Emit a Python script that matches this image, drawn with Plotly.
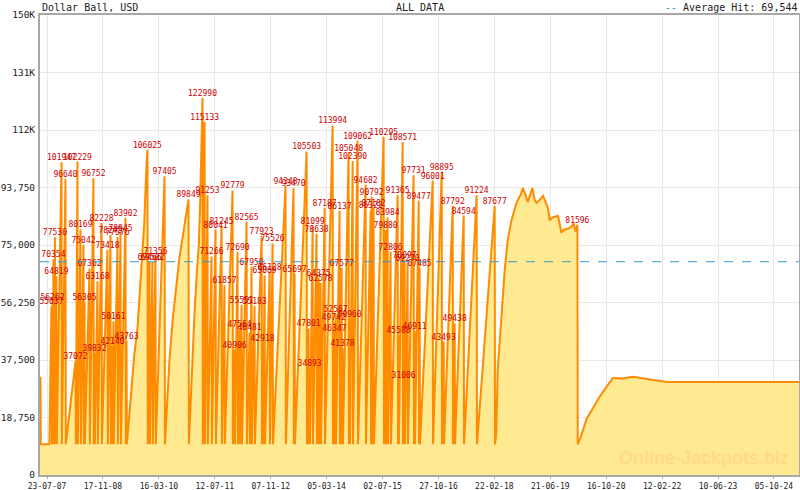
import pandas as pd
import plotly.graph_objects as go

# jackpot hits: date of the hit and the amount won (the red labels)
hit_dates = [
    "2007-08-30", "2007-09-08", "2007-09-16", "2007-09-29", "2007-10-12",
    "2007-11-25", "2007-12-29", "2008-03-25", "2008-04-11", "2008-05-07",
    "2008-06-02", "2008-06-11", "2008-07-24", "2008-08-27", "2008-09-05",
    "2008-10-01", "2008-11-05", "2008-12-26", "2009-01-21", "2009-02-08",
    "2009-02-16", "2009-03-23", "2009-04-18", "2009-05-31", "2009-06-09",
    "2009-12-07", "2009-12-25", "2010-01-19", "2010-02-14", "2010-05-04",
    "2010-11-27", "2011-03-28", "2011-04-15", "2011-05-10", "2011-06-14",
    "2011-07-19", "2011-09-09", "2011-10-04", "2011-12-13", "2011-12-30",
    "2012-01-25", "2012-02-11", "2012-02-29", "2012-04-12", "2012-05-08",
    "2012-05-25", "2012-06-20", "2012-08-20", "2012-08-28", "2012-09-15",
    "2012-10-28", "2012-11-23", "2013-03-15", "2013-05-23", "2013-06-01",
    "2013-09-13", "2013-09-30", "2013-10-09", "2013-11-04", "2013-12-08",
    "2013-12-26", "2014-01-12", "2014-02-16", "2014-04-26", "2014-05-05",
    "2014-05-13", "2014-05-22", "2014-06-25", "2014-07-13", "2014-07-21",
    "2014-09-11", "2014-09-20", "2014-10-16", "2014-11-28", "2015-02-05",
    "2015-03-21", "2015-03-29", "2015-04-15", "2015-07-11", "2015-07-28",
    "2015-08-14", "2015-09-09", "2015-11-09", "2015-11-17", "2015-12-22",
    "2015-12-31", "2016-01-08", "2016-02-03", "2016-03-26", "2016-04-04",
    "2016-05-09", "2016-05-17", "2016-09-07", "2016-11-24", "2016-12-11",
    "2017-02-27", "2017-03-16", "2017-06-02", "2017-09-22", "2018-02-25",
    "2020-02-10",
]
hit_values = [
    55037, 56262, 70354, 77530, 64819,
    101947, 96640, 37072, 102229, 80169,
    75042, 56305, 67362, 96752, 39832,
    63168, 82228, 73418, 78245, 42140,
    50161, 77576, 79045, 83902, 43763,
    106025, 69466, 69502, 71356, 97405,
    89849, 122990, 115133, 91253, 71266,
    80041, 81245, 61857, 92779, 40906,
    72690, 47564, 55551, 82565, 46481,
    67950, 55183, 77923, 42918, 65069,
    66128, 75526, 94348, 93470, 65697,
    105503, 47801, 34893, 81099, 78638,
    64375, 62578, 87187, 113994, 49742,
    46347, 52567, 86137, 67577, 41378,
    105048, 50960, 102390, 109062, 94682,
    86322, 90792, 87182, 110295, 79880,
    83984, 72806, 91365, 45588, 108571,
    31006, 70097, 69270, 97731, 46911,
    89477, 67485, 96001, 98895, 43493,
    87792, 49438, 84594, 91224, 87677,
    81596,
]

# jackpot restarts at this amount after a hit
start_value = 10000

# other readings of the jackpot between hits
reading_dates = [
    "2007-05-23", "2007-05-27", "2007-05-30", "2007-08-12",
    "2009-07-02", "2009-07-31", "2009-08-14", "2009-09-12", "2009-10-10",
    "2009-11-09", "2009-12-01",
    "2010-06-01", "2010-06-16", "2010-07-14", "2010-08-13", "2010-09-10",
    "2010-10-09", "2010-11-07",
    "2010-12-20", "2011-01-03", "2011-01-18", "2011-02-07", "2011-02-24",
    "2011-03-08", "2011-03-22",
    "2018-03-10", "2018-03-23", "2018-04-24", "2018-05-23", "2018-06-18",
    "2018-07-20", "2018-09-01", "2018-10-14", "2018-10-25", "2018-11-12",
    "2018-12-08", "2018-12-25", "2019-01-17", "2019-02-06", "2019-02-21",
    "2019-03-21", "2019-04-19", "2019-05-12", "2019-06-01", "2019-06-16",
    "2019-07-12", "2019-08-27", "2019-09-10", "2019-09-25", "2019-10-15",
    "2019-11-21", "2019-12-20", "2020-01-09", "2020-01-27",
    "2020-03-02", "2020-03-30", "2020-05-02", "2020-06-23", "2020-08-22",
    "2020-10-22", "2020-12-13", "2021-03-10", "2021-06-04", "2021-10-03",
    "2022-01-23", "2022-03-25", "2025-05-10",
]
reading_values = [
    17000, 32000, 10000, 10000,
    19000, 33000, 38600, 48000, 63600,
    82000, 103000,
    26000, 38000, 51000, 62000, 71000,
    78000, 85000,
    29000, 42000, 53000, 66000, 75000,
    89000, 111000,
    13000, 34000, 51600, 67000, 76700,
    83000, 88700, 92000, 93600, 92000,
    89000, 90700, 93600, 89700, 88700,
    89700, 91000, 89000, 87000, 83000,
    84000, 84500, 82000, 79000, 80000,
    80300, 81000, 82000, 79300,
    11500, 14700, 18500, 21800, 25600,
    28900, 31600, 31500, 32000, 31300,
    30600, 30300, 30300,
]

average_hit = 69544

tick_dates = ["2007-07-23", "2008-11-17", "2010-03-16", "2011-07-12",
              "2012-11-07", "2014-03-05", "2015-07-02", "2016-10-27",
              "2018-02-22", "2019-06-21", "2020-10-16", "2022-02-12",
              "2023-06-10", "2024-10-05"]
tick_labels = ["23-07-07", "17-11-08", "16-03-10", "12-07-11", "07-11-12",
               "05-03-14", "02-07-15", "27-10-16", "22-02-18", "21-06-19",
               "16-10-20", "12-02-22", "10-06-23", "05-10-24"]
y_ticks = [0, 18750, 37500, 56250, 75000, 93750, 112500, 131250, 150000]
y_labels = ["0", "18,750", "37,500", "56,250", "75,000", "93,750",
            "112K", "131K", "150K"]

hits = pd.DataFrame({'date': pd.to_datetime(hit_dates), 'value': hit_values})
resets = pd.DataFrame({'date': hits['date'] + pd.Timedelta(days=3),
                       'value': start_value})
readings = pd.DataFrame({'date': pd.to_datetime(reading_dates),
                         'value': reading_values})
series = pd.concat([hits, resets, readings]).sort_values('date', kind='stable')

mono = "DejaVu Sans Mono"
fig = go.Figure()

fig.add_trace(go.Scatter(
    x=series['date'],
    y=series['value'],
    mode='lines',
    line=dict(color='#FF8C00', width=2),
    fill='tozeroy',
    fillcolor='#FFE991',
    hoverinfo='skip'
))

fig.add_hline(y=average_hit, line=dict(color='#3399CC', dash='dash', width=1))

fig.add_trace(go.Scatter(
    x=hits['date'],
    y=hits['value'],
    mode='text',
    text=[str(v) for v in hit_values],
    textposition='top center',
    textfont=dict(family=mono, size=8, color='#CC0000'),
    cliponaxis=False,
    hoverinfo='skip'
))

fig.update_layout(
    width=800,
    height=490,
    margin=dict(l=40, r=1, t=15, b=15, autoexpand=False),
    showlegend=False,
    paper_bgcolor='white',
    plot_bgcolor='white',
    font=dict(family=mono, size=10, color='#222222'),
    annotations=[
        dict(text="Dollar Ball, USD", x=0, y=1, xref='paper', yref='paper',
             xanchor='left', yanchor='bottom', showarrow=False,
             font=dict(family=mono, size=10, color='#222222')),
        dict(text="ALL DATA", x=0.5, y=1, xref='paper', yref='paper',
             xanchor='center', yanchor='bottom', showarrow=False,
             font=dict(family=mono, size=10, color='#222222')),
        dict(text="<span style='color:#3399CC'>--</span> Average Hit: 69,544",
             x=1, y=1, xref='paper', yref='paper', xanchor='right',
             yanchor='bottom', showarrow=False,
             font=dict(family=mono, size=10, color='#222222')),
        dict(text="<b>Online-Jackpots.biz</b>", x=0.99, y=0.01,
             xref='paper', yref='paper', xanchor='right', yanchor='bottom',
             showarrow=False,
             font=dict(family="Liberation Sans", size=18, color='#FFD98C')),
    ],
)

fig.update_xaxes(
    type='date',
    range=["2007-05-23", "2025-05-10"],
    tickvals=tick_dates,
    ticktext=tick_labels,
    tickfont=dict(family=mono, size=8, color='#222222'),
    ticks='outside', ticklen=2, tickcolor='#A8A8A8',
    showgrid=True, gridcolor='#E8E8E8',
    showline=True, linecolor='#A8A8A8', linewidth=2, mirror=True,
    zeroline=False, automargin=False,
)
fig.update_yaxes(
    range=[0, 150000],
    tickvals=y_ticks,
    ticktext=y_labels,
    tickfont=dict(family=mono, size=9.5, color='#222222'),
    ticks='', ticklabelstandoff=1,
    showgrid=True, gridcolor='#E8E8E8',
    showline=True, linecolor='#A8A8A8', linewidth=2, mirror=True,
    zeroline=False, automargin=False,
)

# the page keeps the browser's default body margin otherwise
fig.write_html("out.html",
               config={'displayModeBar': False},
               post_script="document.body.style.margin='0';"
                           "document.body.style.overflow='hidden';")
